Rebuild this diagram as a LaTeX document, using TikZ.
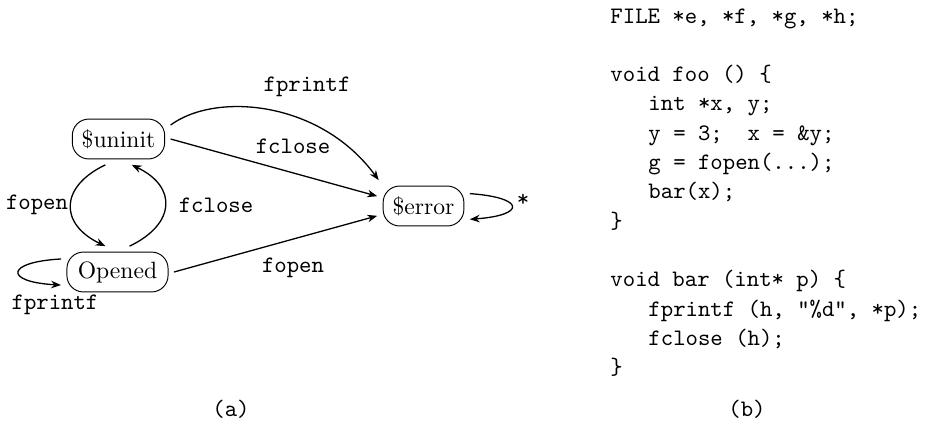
\documentclass[tikz,border=0pt]{standalone}
\usetikzlibrary{arrows.meta}
\begin{document}
\begin{tikzpicture}[x=0.4234pt,y=-0.4234pt,
  state/.style={draw,line width=0.4pt,rounded corners=7pt,minimum height=16.9pt,inner xsep=4pt,inner ysep=0pt,outer sep=2.5pt,font=\normalsize},
  trans/.style={line width=0.55pt,-{Stealth[length=4.2pt,width=3.2pt]}},
  lbl/.style={font=\ttfamily,inner sep=0pt},
  code/.style={font=\ttfamily,inner sep=0pt,anchor=base west}]
\useasboundingbox (0,0) rectangle (930,421);
% states
\node[state] (uninit) at (118.5,139) {\$uninit};
\node[state,inner xsep=4.6pt] (opened) at (117.5,272) {Opened};
\node[state] (error) at (423.5,206) {\$error};
% transitions
\draw[trans] (uninit.15) .. controls (215,92) and (320,100) .. (error.150);
\draw[trans] (uninit.east) -- (error.168);
\draw[trans] (opened.east) -- (error.192);
\draw[trans] (uninit.243) .. controls +(-46,22) and +(-46,-22) .. (opened.115);
\draw[trans] (opened.65) .. controls +(46,-22) and +(46,22) .. (uninit.297);
\draw[trans] (opened.167) .. controls +(-56,3) and +(-57,-3) .. (opened.193);
\draw[trans] (error.15) .. controls +(56,4) and +(56,-4) .. (error.-16);
% labels
\node[lbl] (l1) at (307,87) {fprintf};
\node[lbl] (l2) at (293,146) {fclose};
\node[lbl] (l3) at (293,268) {fopen};
\node[lbl] (l4) at (37,205) {fopen};
\node[lbl] (l5) at (216,205) {fclose};
\node[lbl] (l6) at (55,305) {fprintf};
\node[lbl] (l7) at (523,200) {*};
\node[lbl] (capa) at (231,409) {(a)};
\node[lbl] (capb) at (747,409) {(b)};
% code
\node[code] (c0) at (610,23) {FILE *e, *f, *g, *h;};
\node[code] (c2) at (610,81.6) {void foo () \{};
\node[code] (c3) at (648,110.9) {int *x, y;};
\node[code] (c4) at (648,140.2) {y = 3;\ \ x = \&y;};
\node[code] (c5) at (648,169.5) {g = fopen(...);};
\node[code] (c6) at (648,198.8) {bar(x);};
\node[code] (c7) at (610,228.1) {\}};
\node[code] (c9) at (610,286.7) {void bar (int* p) \{};
\node[code] (c10) at (648,316) {fprintf (h, "\%d", *p);};
\node[code] (c11) at (648,345.3) {fclose (h);};
\node[code] (c12) at (610,374.6) {\}};
\end{tikzpicture}
\end{document}
